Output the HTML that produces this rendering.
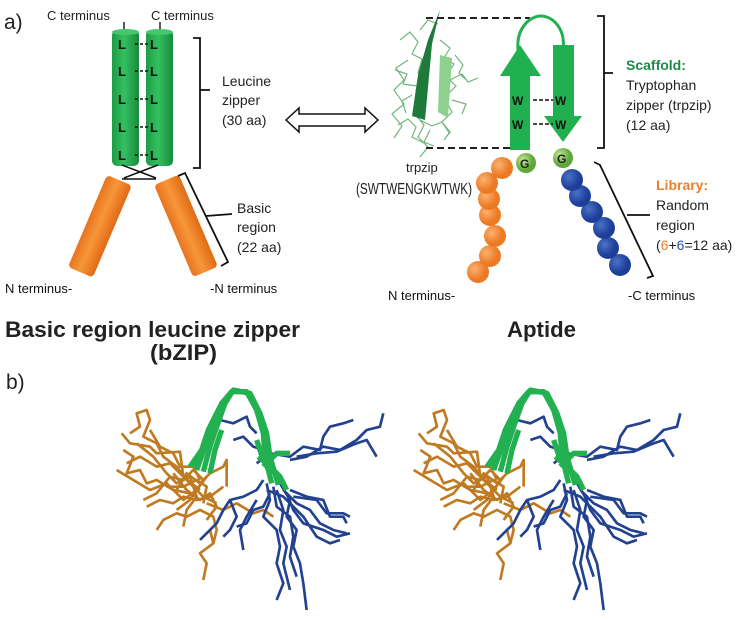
<!DOCTYPE html>
<html><head><meta charset="utf-8"><style>
html,body{margin:0;padding:0;background:#fff;}
svg{display:block;font-family:"Liberation Sans",sans-serif;}
</style></head><body>
<svg width="745" height="621" viewBox="0 0 745 621" xmlns="http://www.w3.org/2000/svg">
<defs>
<linearGradient id="gc" x1="0" x2="1"><stop offset="0" stop-color="#1f9a45"/><stop offset="0.45" stop-color="#33c060"/><stop offset="1" stop-color="#1a8a3c"/></linearGradient>
<linearGradient id="oc" x1="0" x2="1"><stop offset="0" stop-color="#e8731e"/><stop offset="0.45" stop-color="#f7963a"/><stop offset="1" stop-color="#e06a15"/></linearGradient>
<radialGradient id="ob" cx="0.35" cy="0.35"><stop offset="0" stop-color="#fbb270"/><stop offset="1" stop-color="#ec7a25"/></radialGradient>
<radialGradient id="bb" cx="0.35" cy="0.35"><stop offset="0" stop-color="#4a72c8"/><stop offset="1" stop-color="#1e3f98"/></radialGradient>
<radialGradient id="gb" cx="0.35" cy="0.35"><stop offset="0" stop-color="#c8e89a"/><stop offset="1" stop-color="#5ea83a"/></radialGradient>
<g id="mol" transform="translate(90,390) scale(0.3333)" fill="none" stroke-linejoin="round" stroke-width="8">
 <g stroke="#c07a22">
  <polyline points="100,180 130,200 110,250 150,240 170,280 200,270 250,300 300,310"/>
  <polyline points="120,130 150,110 140,70 170,60 180,90 160,140 200,160 220,200 260,230 300,280"/>
  <polyline points="95,130 120,160 180,170 200,190 270,185 280,260 330,300"/>
  <polyline points="170,350 210,330 250,340 280,320 320,330 360,320 400,290"/>
  <polyline points="200,420 220,390 260,370 290,380 330,360 370,380 380,420 370,460"/>
  <polyline points="340,570 350,520 330,490 370,460 360,420"/>
  <polyline points="260,300 290,250 330,280 360,250 400,230 410,210 410,290"/>
  <polyline points="350,340 400,360 440,340 490,370 520,360 550,380"/>
  <polyline points="80,240 130,270 180,300 230,280 280,330 320,300 350,260"/>
  <polyline points="160,330 200,310 240,260 280,270 310,240 340,270 300,330 260,360"/>
  <polyline points="110,220 150,200 200,230 240,220 270,250 310,290 340,320 380,340"/>
  <polyline points="140,160 190,200 230,250 260,280 300,260 320,320 290,360 280,410"/>
  <polyline points="250,250 290,300 330,330 360,310 380,350 350,390"/>
  <polyline points="230,290 280,290 320,270 350,290 340,340"/>
  <polyline points="180,120 210,170 250,190 270,230 310,230 330,270"/>
 </g>
 <g stroke="#22418f">
  <polyline points="500,220 540,190 600,200 640,170 690,180 700,140 720,110 760,100 790,90"/>
  <polyline points="600,210 650,200 700,170 750,180 800,150 830,120 870,110 880,70"/>
  <polyline points="620,200 680,190 740,185 800,160 830,150 860,200"/>
  <polyline points="430,150 460,140 490,170 520,180"/>
  <polyline points="390,90 430,100 470,80 480,110 500,130"/>
  <polyline points="520,270 500,300 460,320 420,330 400,360 380,400 360,420 330,450"/>
  <polyline points="530,280 540,330 520,380 560,420 570,470 560,520 580,580 560,630"/>
  <polyline points="570,280 600,330 590,380 620,420 610,470 630,520 640,580 650,660"/>
  <polyline points="580,300 620,340 660,360 690,400 730,420 770,430"/>
  <polyline points="600,300 650,320 700,330 720,380 760,380 770,400"/>
  <polyline points="550,290 560,350 600,380 610,440 600,500 620,560"/>
  <polyline points="500,330 470,380 450,420 460,480"/>
  <polyline points="530,300 580,320 640,380 680,440 720,460 750,450"/>
  <polyline points="420,330 440,380 420,420 400,440"/>
  <polyline points="590,310 610,360 640,400 700,420 740,440 780,430"/>
  <polyline points="560,300 580,360 570,420 590,470 580,520 600,600"/>
  <polyline points="610,320 680,330 710,370 760,370 780,380"/>
  <polyline points="540,310 520,350 490,360 470,400 440,410"/>
 </g>
 <g stroke="#22b050" stroke-width="16">
  <polyline points="320,240 345,170 365,110 395,40 425,5 470,5 500,60 520,130 525,200 545,280"/>
  <polyline points="340,245 360,170 380,110 405,40 430,0 480,10 510,70 530,130 540,200 565,285"/>
  <polyline points="300,230 335,180 355,120 390,50"/>
  <polyline points="360,250 375,180 395,120"/>
  <polyline points="315,230 350,160 370,100"/>
  <polyline points="505,200 540,230 570,260 590,300"/>
  <polyline points="520,230 560,190 600,190"/>
  <polyline points="500,150 520,210 550,250"/>
 </g>
</g>
</defs>

<!-- Part a left -->
<text x="4" y="29" font-size="21" fill="#222">a)</text>
<text x="47" y="20" font-size="13" fill="#222">C terminus</text>
<text x="151" y="20" font-size="13" fill="#222">C terminus</text>
<line x1="124" y1="22" x2="124" y2="34" stroke="#222" stroke-width="1.5"/>
<line x1="160" y1="22" x2="160" y2="34" stroke="#222" stroke-width="1.5"/>
<rect x="112" y="30" width="27" height="136" rx="5" fill="url(#gc)"/>
<ellipse cx="125.5" cy="32" rx="13.5" ry="3" fill="#45c86c"/>
<rect x="146" y="30" width="27" height="136" rx="5" fill="url(#gc)"/>
<ellipse cx="159.5" cy="32" rx="13.5" ry="3" fill="#45c86c"/>
<g font-size="13" font-weight="bold" fill="#111">
<text x="118" y="49">L</text><text x="150" y="49">L</text>
<text x="118" y="76">L</text><text x="150" y="76">L</text>
<text x="118" y="104">L</text><text x="150" y="104">L</text>
<text x="118" y="132">L</text><text x="150" y="132">L</text>
<text x="118" y="160">L</text><text x="150" y="160">L</text>
</g>
<g stroke="#111" stroke-width="1.5" stroke-dasharray="3,2">
<line x1="135" y1="44" x2="150" y2="44"/><line x1="135" y1="71" x2="150" y2="71"/>
<line x1="135" y1="99" x2="150" y2="99"/><line x1="135" y1="127" x2="150" y2="127"/>
<line x1="135" y1="155" x2="150" y2="155"/>
</g>
<path d="M122,165 L156,178 M158,165 L124,178 M122,179 L156,179" stroke="#111" stroke-width="1.5" fill="none"/>
<g transform="translate(119,180) rotate(23)"><rect x="-13" y="0" width="27" height="100" rx="4" fill="url(#oc)"/></g>
<g transform="translate(166,180) rotate(-23)"><rect x="-13" y="0" width="27" height="100" rx="4" fill="url(#oc)"/></g>
<path d="M193,38 H200 V168 H193 M200,90 H210" stroke="#111" stroke-width="1.8" fill="none"/>
<text x="222" y="86" font-size="14" fill="#222">Leucine</text>
<text x="222" y="105" font-size="14" fill="#222">zipper</text>
<text x="222" y="125" font-size="14" fill="#222">(30 aa)</text>
<path d="M178,176 L185,173 L228,262 L221,266 M206,216 L232,214" stroke="#111" stroke-width="1.8" fill="none"/>
<text x="237" y="213" font-size="14" fill="#222">Basic</text>
<text x="237" y="232" font-size="14" fill="#222">region</text>
<text x="237" y="252" font-size="14" fill="#222">(22 aa)</text>
<text x="5" y="293" font-size="13" fill="#111">N terminus-</text>
<text x="210" y="293" font-size="13" fill="#111">-N terminus</text>

<!-- double arrow -->
<path d="M286,120 L299,108 V114 H365 V108 L378,120 L365,132 V126 H299 V132 Z" fill="#fff" stroke="#111" stroke-width="1.5"/>

<!-- trpzip structure -->
<g stroke="#5aa867" stroke-width="1.2" fill="none" opacity="0.85">
<path d="M400,40 l10,-8 8,10 -6,12 10,5 -4,14 8,8 -10,10 6,12 -8,10 10,12 -6,12 10,10 -8,10 M408,60 l-12,8 8,12 -10,10 10,14 -12,10 10,12 -8,12 M440,40 l10,8 -6,10 10,6 -8,12 10,10 -12,12 8,14 -10,10 8,12 M455,55 l8,10 -4,8 6,6 M420,120 l12,6 10,-4 8,10 -6,8"/>
<path d="M395,70 l12,4 -4,10 14,2 M450,80 l12,-6 6,8 10,-4 M452,100 l14,4 -4,10 M398,125 l10,-6 8,8 -4,10 12,6 M430,130 l-6,12 10,4 M420,30 l8,-10 10,4 M412,95 l-10,6 4,12"/>
</g>
<path d="M428,40 L440,10 L432,44 L425,120 L412,116 L418,75 Z" fill="#1e7a3a"/>
<path d="M440,55 L452,58 L448,118 L438,112 Z" fill="#8ed08e"/>
<line x1="426" y1="18" x2="530" y2="18" stroke="#222" stroke-width="2" stroke-dasharray="7,4"/>
<line x1="426" y1="148" x2="515" y2="148" stroke="#222" stroke-width="2" stroke-dasharray="7,4"/>
<text x="406" y="172" font-size="13" fill="#222">trpzip</text>
<text x="356" y="194" font-size="16" fill="#222" textLength="116" lengthAdjust="spacingAndGlyphs">(SWTWENGKWTWK)</text>

<!-- hairpin -->
<path d="M518,50 C516,28 530,16 541,16 C552,16 566,28 563,50" stroke="#22b050" stroke-width="3" fill="none"/>
<path d="M510,150 V76 H500 L520,45 L541,76 H530 V150 Z" fill="#21b04f"/>
<path d="M553,45 H574 V116 H582 L563,142 L544,116 H553 Z" fill="#21b04f"/>
<g font-size="12" font-weight="bold" fill="#111">
<text x="512" y="105">W</text><text x="512" y="129">W</text>
<text x="555" y="105">W</text><text x="555" y="129">W</text>
</g>
<g stroke="#111" stroke-width="1.5" stroke-dasharray="4,2">
<line x1="533" y1="100" x2="553" y2="100"/><line x1="533" y1="124" x2="553" y2="124"/>
</g>
<!-- orange beads -->
<circle cx="478" cy="272" r="11" fill="url(#ob)"/>
<circle cx="490" cy="256" r="11" fill="url(#ob)"/>
<circle cx="495" cy="236" r="11" fill="url(#ob)"/>
<circle cx="490" cy="215" r="11" fill="url(#ob)"/>
<circle cx="489" cy="199" r="11" fill="url(#ob)"/>
<circle cx="487" cy="183" r="11" fill="url(#ob)"/>
<circle cx="502" cy="168" r="11" fill="url(#ob)"/>
<!-- blue beads -->
<circle cx="620" cy="265" r="11" fill="url(#bb)"/>
<circle cx="608" cy="248" r="11" fill="url(#bb)"/>
<circle cx="604" cy="228" r="11" fill="url(#bb)"/>
<circle cx="592" cy="212" r="11" fill="url(#bb)"/>
<circle cx="580" cy="196" r="11" fill="url(#bb)"/>
<circle cx="572" cy="180" r="11" fill="url(#bb)"/>
<circle cx="526" cy="163" r="10" fill="url(#gb)"/>
<circle cx="563" cy="158" r="10" fill="url(#gb)"/>
<text x="520" y="168" font-size="12" font-weight="bold" fill="#222">G</text>
<text x="557" y="163" font-size="12" font-weight="bold" fill="#222">G</text>

<path d="M597,16 H604 V148 H597 M604,73 H613" stroke="#111" stroke-width="1.8" fill="none"/>
<text x="626" y="70" font-size="14" font-weight="bold" fill="#1e8a45">Scaffold:</text>
<text x="626" y="90" font-size="14" fill="#222">Tryptophan</text>
<text x="626" y="110" font-size="14" fill="#222">zipper (trpzip)</text>
<text x="626" y="130" font-size="14" fill="#222">(12 aa)</text>
<path d="M594,162 L600,165 L653,276 L647,278 M627,215 L650,215" stroke="#111" stroke-width="1.8" fill="none"/>
<text x="656" y="190" font-size="14" font-weight="bold" fill="#e8822e">Library:</text>
<text x="656" y="210" font-size="14" fill="#222">Random</text>
<text x="656" y="230" font-size="14" fill="#222">region</text>
<text x="656" y="250" font-size="14" fill="#222">(<tspan fill="#e8822e">6</tspan>+<tspan fill="#2a4fa8">6</tspan>=12 aa)</text>
<text x="388" y="300" font-size="13" fill="#111">N terminus-</text>
<text x="628" y="300" font-size="13" fill="#111">-C terminus</text>

<!-- titles -->
<text x="5" y="337" font-size="22" font-weight="bold" fill="#222" textLength="295" lengthAdjust="spacingAndGlyphs">Basic region leucine zipper</text>
<text x="150" y="360" font-size="22" font-weight="bold" fill="#222" textLength="67" lengthAdjust="spacingAndGlyphs">(bZIP)</text>
<text x="507" y="337" font-size="22" font-weight="bold" fill="#222" textLength="69" lengthAdjust="spacingAndGlyphs">Aptide</text>
<text x="6" y="389" font-size="21" fill="#222">b)</text>

<use href="#mol"/>
<use href="#mol" transform="translate(297,0)"/>
</svg>
</body></html>
